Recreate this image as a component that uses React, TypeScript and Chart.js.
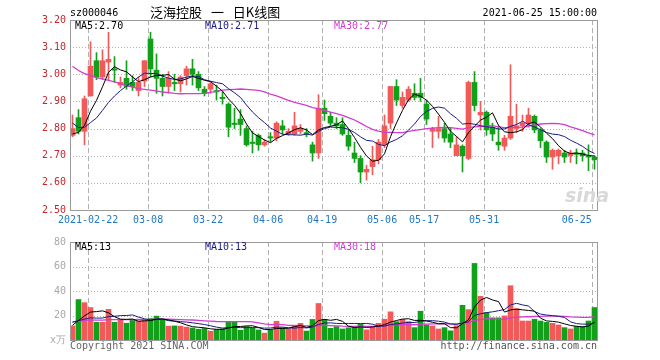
import { useEffect, useRef } from 'react';
import { Chart, registerables } from 'chart.js';

Chart.register(...registerables);

// ---------------- data ----------------
const dates = [
  '2021-02-10','2021-02-18','2021-02-19','2021-02-22','2021-02-23','2021-02-24','2021-02-25','2021-02-26','2021-03-01','2021-03-02',
  '2021-03-03','2021-03-04','2021-03-05','2021-03-08','2021-03-09','2021-03-10','2021-03-11','2021-03-12','2021-03-15','2021-03-16',
  '2021-03-17','2021-03-18','2021-03-19','2021-03-22','2021-03-23','2021-03-24','2021-03-25','2021-03-26','2021-03-29','2021-03-30',
  '2021-03-31','2021-04-01','2021-04-02','2021-04-06','2021-04-07','2021-04-08','2021-04-09','2021-04-12','2021-04-13','2021-04-14',
  '2021-04-15','2021-04-16','2021-04-19','2021-04-20','2021-04-21','2021-04-22','2021-04-23','2021-04-26','2021-04-27','2021-04-28',
  '2021-04-29','2021-04-30','2021-05-06','2021-05-07','2021-05-10','2021-05-11','2021-05-12','2021-05-13','2021-05-14','2021-05-17',
  '2021-05-18','2021-05-19','2021-05-20','2021-05-21','2021-05-24','2021-05-25','2021-05-26','2021-05-27','2021-05-28','2021-05-31',
  '2021-06-01','2021-06-02','2021-06-03','2021-06-04','2021-06-07','2021-06-08','2021-06-09','2021-06-10','2021-06-11','2021-06-15',
  '2021-06-16','2021-06-17','2021-06-18','2021-06-21','2021-06-22','2021-06-23','2021-06-24','2021-06-25',
];

const opens = [
  2.775,2.84,2.79,2.92,3.05,2.99,3.045,3.02,2.96,2.985,
  2.97,2.94,2.975,3.13,3.015,2.985,2.955,2.97,2.965,2.995,
  3.02,3.00,2.945,2.945,2.94,2.915,2.89,2.82,2.835,2.80,
  2.75,2.775,2.74,2.77,2.765,2.81,2.78,2.78,2.79,2.785,
  2.74,2.71,2.875,2.845,2.82,2.815,2.775,2.71,2.69,2.64,
  2.66,2.685,2.74,2.82,2.955,2.885,2.905,2.93,2.93,2.89,
  2.79,2.79,2.80,2.78,2.70,2.735,2.69,2.97,2.85,2.86,
  2.805,2.75,2.735,2.765,2.80,2.81,2.82,2.845,2.795,2.75,
  2.695,2.70,2.71,2.70,2.71,2.71,2.70,2.695,
];
const highs = [
  2.85,2.87,2.92,3.12,3.08,3.09,3.155,3.065,2.99,3.05,
  2.995,2.99,3.05,3.155,3.075,3.00,3.01,3.00,2.995,3.03,
  3.055,3.01,2.955,2.97,2.96,2.935,2.895,2.875,2.87,2.81,
  2.79,2.78,2.76,2.785,2.825,2.83,2.80,2.86,2.815,2.80,
  2.75,2.925,2.905,2.86,2.84,2.84,2.795,2.75,2.70,2.665,
  2.735,2.76,2.85,2.955,2.98,2.935,2.955,2.965,2.985,2.905,
  2.805,2.845,2.82,2.805,2.77,2.74,2.975,3.01,2.90,2.865,
  2.82,2.81,2.775,3.035,2.89,2.85,2.875,2.85,2.80,2.755,
  2.725,2.725,2.72,2.72,2.725,2.72,2.74,2.70,
];
const lows = [
  2.77,2.78,2.74,2.92,2.98,2.98,2.98,2.97,2.95,2.945,
  2.94,2.92,2.955,2.99,2.93,2.92,2.93,2.94,2.935,2.96,
  2.96,2.94,2.92,2.93,2.905,2.89,2.77,2.80,2.775,2.735,
  2.71,2.72,2.735,2.75,2.755,2.78,2.775,2.775,2.78,2.77,
  2.68,2.69,2.83,2.81,2.80,2.775,2.72,2.675,2.60,2.61,
  2.63,2.67,2.73,2.80,2.885,2.875,2.90,2.905,2.90,2.815,
  2.73,2.765,2.75,2.73,2.70,2.64,2.685,2.865,2.795,2.775,
  2.755,2.72,2.72,2.76,2.785,2.79,2.805,2.785,2.73,2.675,
  2.65,2.67,2.675,2.675,2.67,2.68,2.645,2.65,
];
const closes = [
  2.80,2.79,2.91,3.03,2.99,3.05,3.055,3.015,2.97,2.955,
  2.955,2.97,3.05,3.02,2.985,2.955,2.985,2.965,2.99,3.02,
  3.00,2.95,2.93,2.965,2.935,2.91,2.805,2.815,2.815,2.74,
  2.745,2.74,2.75,2.765,2.82,2.795,2.79,2.81,2.80,2.78,
  2.71,2.875,2.855,2.82,2.81,2.78,2.735,2.69,2.64,2.65,
  2.685,2.75,2.81,2.955,2.905,2.915,2.945,2.915,2.915,2.835,
  2.80,2.80,2.765,2.75,2.74,2.70,2.97,2.885,2.86,2.795,
  2.78,2.74,2.765,2.845,2.81,2.82,2.85,2.795,2.755,2.695,
  2.72,2.72,2.695,2.71,2.705,2.70,2.695,2.685,
];
// volume, unit: 万手
const volumes = [
  11.5,33,30.5,26.5,14.5,14.5,25,14.5,16.5,13.7,
  16,15.5,16.5,17.5,19.5,16.8,11.3,11.5,11.3,10.5,
  9.8,8.8,9.4,7.2,8.6,9.2,14.8,14.5,8,11,
  9.8,8.2,5.6,8.2,15.3,10,9,11.5,13.6,7.3,
  16.8,29.8,16.8,9.6,11,9,10,11,12.8,8.3,
  11,13.6,17,23,15,16.8,15,10.1,23.5,12.3,
  11.5,9,10.1,7.5,11.7,28.3,24.8,62.5,35.7,22.4,
  18.1,18.1,19.7,44.3,25.6,15.5,15.5,17,15.5,14.4,
  13.6,12.3,10.1,9,11,11,15.5,26.5,
];
// sessions before the visible window (estimated from where the MA lines begin)
const priorCloses = [
  3.26,3.25,3.24,3.22,3.21,3.20,3.19,3.17,3.16,3.14,
  3.13,3.12,3.10,3.09,3.07,3.06,3.04,3.03,3.01,3.00,
  2.95,2.90,2.86,2.82,2.77,2.76,2.78,2.77,2.79,
];
const priorVolumes = [
  14,16,13,18,15,12,17,14,16,15,
  13,19,14,15,16,12,17,15,14,15,
  20,18,16,17,14,13,12,11,12.5,
];

const xTickDates = ['2021-02-22','2021-03-08','2021-03-22','2021-04-06','2021-04-19','2021-05-06','2021-05-17','2021-05-31','2021-06-25'];
const xTickLabels = ['2021-02-22','03-08','03-22','04-06','04-19','05-06','05-17','05-31','06-25'];
const priceTicks = { min: 2.5, max: 3.2, step: 0.1 };
const volumeTicks = { min: 0, max: 80, step: 20 };

const stockCode = 'sz000046';
const titleText = '泛海控股 一 日K线图';
const timeText = '2021-06-25 15:00:00';
const priceMaLabels = ['MA5:2.70', 'MA10:2.71', 'MA30:2.77'];
const volumeMaLabels = ['MA5:13', 'MA10:13', 'MA30:18'];

// ---------------- helpers ----------------
const UP = '#f25a5a';
const DOWN = '#12a01a';
const MA_COLORS = ['#000000', '#1a1a8a', '#d23cd2'];

function movingAverage(prior: number[], values: number[], n: number): number[] {
  const all = prior.concat(values);
  const off = prior.length;
  return values.map((_, i) => {
    let s = 0;
    for (let k = off + i - n + 1; k <= off + i; k++) s += all[k];
    return s / n;
  });
}

const N = closes.length;
const X_MIN = -0.5 + 0.5 / 6;
const X_MAX = N - 0.5 + 0.5 / 6;
const candleColors = closes.map((c, i) => (c >= opens[i] ? UP : DOWN));
const gridIdx = xTickDates.map((d) => dates.indexOf(d));
const gridPos = gridIdx.map((i) => i - 0.4);
const labelPos = gridIdx.map((i, k) => (k === gridIdx.length - 1 ? i - 2.97 : i - 0.4));

const MONO = '"DejaVu Sans Mono", monospace';

const sinaGrid = {
  id: 'sinaGrid',
  beforeDatasetsDraw(chart: any) {
    const { ctx, chartArea: a, scales } = chart;
    const y = scales.y;
    const x = scales.x;
    ctx.save();
    ctx.lineWidth = 1;
    ctx.strokeStyle = '#b0b0b0';
    ctx.setLineDash([1, 2]);
    for (const t of y.ticks) {
      if (t.value <= y.min + 1e-9 || t.value >= y.max - 1e-9) continue;
      const py = Math.round(y.getPixelForValue(t.value)) + 0.5;
      ctx.beginPath();
      ctx.moveTo(a.left, py);
      ctx.lineTo(a.right, py);
      ctx.stroke();
    }
    ctx.setLineDash([5, 3]);
    for (const v of gridPos) {
      const px = Math.floor(x.getPixelForValue(v)) + 0.5;
      ctx.beginPath();
      ctx.moveTo(px, a.top);
      ctx.lineTo(px, a.bottom);
      ctx.stroke();
    }
    ctx.restore();
  },
  afterDraw(chart: any) {
    const { ctx, chartArea: a } = chart;
    ctx.save();
    ctx.strokeStyle = '#9a9a9a';
    ctx.lineWidth = 1;
    ctx.setLineDash([]);
    ctx.strokeRect(a.left + 0.5, a.top + 0.5, a.right - a.left - 1, a.bottom - a.top);
    ctx.restore();
  },
};

function lineSet(label: string, values: number[], color: string, width: number) {
  return {
    type: 'line',
    label,
    data: values.map((y, i) => ({ x: i, y })),
    borderColor: color,
    borderWidth: width,
    pointRadius: 0,
    tension: 0,
    fill: false,
    order: 0,
  };
}

function priceConfig(): any {
  const ma5 = movingAverage(priorCloses, closes, 5);
  const ma10 = movingAverage(priorCloses, closes, 10);
  const ma30 = movingAverage(priorCloses, closes, 30);
  const bodies = opens.map((o, i) => {
    const c = closes[i];
    if (Math.abs(c - o) < 0.004) {
      const m = (c + o) / 2;
      return { x: i, y: [m - 0.002, m + 0.002] };
    }
    return { x: i, y: [o, c] };
  });
  const wicks = lows.map((l, i) => ({ x: i, y: [l, highs[i]] }));
  return {
    type: 'bar',
    data: {
      datasets: [
        lineSet('MA5', ma5, MA_COLORS[0], 1),
        lineSet('MA10', ma10, MA_COLORS[1], 1),
        lineSet('MA30', ma30, MA_COLORS[2], 1.3),
        { type: 'bar', label: 'body', data: bodies, backgroundColor: candleColors, borderWidth: 0, barThickness: 5, grouped: false, order: 1 },
        { type: 'bar', label: 'wick', data: wicks, backgroundColor: candleColors, borderWidth: 0, barThickness: 1, grouped: false, order: 2 },
      ],
    },
    options: {
      animation: false,
      responsive: false,
      devicePixelRatio: 1,
      events: [],
      layout: { padding: { left: 0, right: 62, top: 20, bottom: 0 } },
      plugins: { legend: { display: false }, tooltip: { enabled: false }, title: { display: false } },
      scales: {
        x: {
          type: 'linear',
          min: X_MIN,
          max: X_MAX,
          offset: false,
          grid: { display: false, drawTicks: false },
          border: { display: false },
          afterBuildTicks: (axis: any) => {
            axis.ticks = labelPos.map((v) => ({ value: v }));
          },
          afterFit: (axis: any) => {
            axis.height = 22;
          },
          ticks: {
            autoSkip: false,
            maxRotation: 0,
            minRotation: 0,
            padding: 4,
            color: '#1f78c1',
            font: { family: MONO, size: 10 },
            callback: (_v: any, idx: number) => xTickLabels[idx],
          },
        },
        y: {
          type: 'linear',
          min: priceTicks.min,
          max: priceTicks.max,
          grid: { display: false, drawTicks: false },
          border: { display: false },
          afterFit: (axis: any) => {
            axis.width = 70;
          },
          ticks: {
            stepSize: priceTicks.step,
            padding: 4,
            color: '#c0282d',
            font: { family: MONO, size: 10 },
            callback: (v: any) => Number(v).toFixed(2),
          },
        },
      },
    },
    plugins: [sinaGrid],
  };
}

function volumeConfig(): any {
  const v5 = movingAverage(priorVolumes, volumes, 5);
  const v10 = movingAverage(priorVolumes, volumes, 10);
  const v30 = movingAverage(priorVolumes, volumes, 30);
  return {
    type: 'bar',
    data: {
      datasets: [
        lineSet('MA5', v5, MA_COLORS[0], 1),
        lineSet('MA10', v10, MA_COLORS[1], 1),
        lineSet('MA30', v30, MA_COLORS[2], 1.3),
        { type: 'bar', label: 'volume', data: volumes.map((v, i) => ({ x: i, y: v })), backgroundColor: candleColors, borderWidth: 0, barThickness: 5, grouped: false, order: 1 },
      ],
    },
    options: {
      animation: false,
      responsive: false,
      devicePixelRatio: 1,
      events: [],
      layout: { padding: { left: 0, right: 62, top: 8, bottom: 20 } },
      plugins: { legend: { display: false }, tooltip: { enabled: false }, title: { display: false } },
      scales: {
        x: {
          type: 'linear',
          display: false,
          min: X_MIN,
          max: X_MAX,
          offset: false,
          grid: { display: false },
        },
        y: {
          type: 'linear',
          min: volumeTicks.min,
          max: volumeTicks.max,
          grid: { display: false, drawTicks: false },
          border: { display: false },
          afterFit: (axis: any) => {
            axis.width = 70;
          },
          ticks: {
            stepSize: volumeTicks.step,
            padding: 4,
            color: '#a8a8a8',
            font: { family: MONO, size: 10 },
            callback: (v: any) => (Number(v) === 0 ? 'x万' : String(v)),
          },
        },
      },
    },
    plugins: [sinaGrid],
  };
}

const monoText = (extra: any): any => ({
  position: 'absolute',
  fontFamily: MONO,
  fontSize: 10,
  lineHeight: '12px',
  whiteSpace: 'pre',
  ...extra,
});

export default function App() {
  const priceRef = useRef<HTMLCanvasElement>(null);
  const volRef = useRef<HTMLCanvasElement>(null);

  useEffect(() => {
    const c1 = new Chart(priceRef.current as HTMLCanvasElement, priceConfig());
    const c2 = new Chart(volRef.current as HTMLCanvasElement, volumeConfig());
    return () => {
      c1.destroy();
      c2.destroy();
    };
  }, []);

  return (
    <div style={{ position: 'fixed', left: 0, top: 0, width: 660, height: 360, background: '#fff', overflow: 'hidden' }}>
      <canvas ref={priceRef} width={660} height={232} style={{ position: 'absolute', left: 0, top: 0, width: 660, height: 232 }} />
      <canvas ref={volRef} width={660} height={128} style={{ position: 'absolute', left: 0, top: 232, width: 660, height: 128 }} />

      <div style={monoText({ left: 70, top: 7, color: '#000' })}>{stockCode}</div>
      <div
        style={{
          position: 'absolute',
          left: 150,
          top: 4,
          fontFamily: '"Noto Sans CJK SC", sans-serif',
          fontSize: 13,
          lineHeight: '16px',
          wordSpacing: 6,
          whiteSpace: 'pre',
          color: '#000',
        }}
      >
        {titleText}
      </div>
      <div style={monoText({ right: 63, top: 7, color: '#000' })}>{timeText}</div>

      <div style={monoText({ left: 75, top: 20, color: MA_COLORS[0] })}>{priceMaLabels[0]}</div>
      <div style={monoText({ left: 205, top: 20, color: MA_COLORS[1] })}>{priceMaLabels[1]}</div>
      <div style={monoText({ left: 334, top: 20, color: MA_COLORS[2] })}>{priceMaLabels[2]}</div>

      <div
        style={{
          position: 'absolute',
          left: 565,
          top: 184,
          fontFamily: '"DejaVu Sans", sans-serif',
          fontStyle: 'italic',
          fontWeight: 'bold',
          fontSize: 19,
          lineHeight: '22px',
          color: '#d8d8d8',
        }}
      >
        sina
      </div>

      <div style={monoText({ left: 75, top: 241, color: MA_COLORS[0] })}>{volumeMaLabels[0]}</div>
      <div style={monoText({ left: 205, top: 241, color: MA_COLORS[1] })}>{volumeMaLabels[1]}</div>
      <div style={monoText({ left: 334, top: 241, color: MA_COLORS[2] })}>{volumeMaLabels[2]}</div>

      <div style={monoText({ left: 70, top: 340, color: '#666' })}>Copyright 2021 SINA.COM</div>
      <div style={monoText({ right: 63, top: 340, color: '#555' })}>http://finance.sina.com.cn</div>
    </div>
  );
}
